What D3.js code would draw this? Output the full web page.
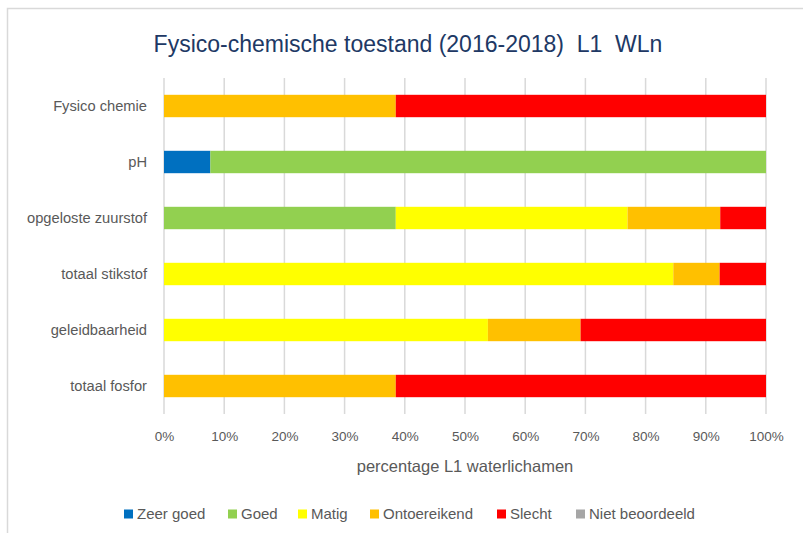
<!DOCTYPE html>
<html>
<head>
<meta charset="utf-8">
<script src="https://cdn.jsdelivr.net/npm/d3@7"></script>
<style>
  html, body { margin: 0; padding: 0; background: #fff; }
  svg { display: block; }
  text { font-family: "Liberation Sans", Arial, sans-serif; }
</style>
</head>
<body>
<svg id="chart" width="803" height="533"></svg>
<script>
// Parameters (top to bottom)
const categories = ["Fysico chemie", "pH", "opgeloste zuurstof", "totaal stikstof", "geleidbaarheid", "totaal fosfor"];

// Share of L1 water bodies per status class (%), one value per category
const classes = ["Zeer goed", "Goed", "Matig", "Ontoereikend", "Slecht", "Niet beoordeeld"];
const zeerGoed       = [0,    7.7,  0,    0,    0,    0];
const goed           = [0,    92.3, 38.5, 0,    0,    0];
const matig          = [0,    0,    38.5, 84.6, 53.8, 0];
const ontoereikend   = [38.5, 0,    15.4, 7.7,  15.4, 38.5];
const slecht         = [61.5, 0,    7.6,  7.7,  30.8, 61.5];
const nietBeoordeeld = [0,    0,    0,    0,    0,    0];

const tickValues = [0, 10, 20, 30, 40, 50, 60, 70, 80, 90, 100];
const titleText = "Fysico-chemische toestand (2016-2018)  L1  WLn";
const axisTitle = "percentage L1 waterlichamen";

const colors = ["#0070C0", "#92D050", "#FFFF00", "#FFC000", "#FF0000", "#A6A6A6"];

const seriesValues = [zeerGoed, goed, matig, ontoereikend, slecht, nietBeoordeeld];
const rows = categories.map((c, i) => {
  const r = { category: c };
  classes.forEach((k, j) => { r[k] = seriesValues[j][i]; });
  return r;
});
const stacked = d3.stack().keys(classes)(rows);

const svg = d3.select("#chart");

// Chart frame
svg.append("rect")
  .attr("x", 7.5).attr("y", 8.5)
  .attr("width", 803).attr("height", 533)
  .attr("fill", "#fff").attr("stroke", "#d9d9d9").attr("stroke-width", 1.5);

const plot = { left: 164, right: 766, top: 78, bottom: 414 };

const x = d3.scaleLinear().domain([0, 100]).range([plot.left, plot.right]);
const y = d3.scaleBand().domain(categories).range([plot.top, plot.bottom]).paddingInner(0.6).paddingOuter(0.3);

// Vertical gridlines
svg.append("g")
  .selectAll("line")
  .data(tickValues)
  .join("line")
  .attr("x1", d => x(d)).attr("x2", d => x(d))
  .attr("y1", plot.top).attr("y2", plot.bottom)
  .attr("stroke", "#d9d9d9").attr("stroke-width", 1.5);

// Stacked bars
const color = d3.scaleOrdinal().domain(classes).range(colors);
svg.append("g")
  .selectAll("g")
  .data(stacked)
  .join("g")
  .attr("fill", d => color(d.key))
  .selectAll("rect")
  .data(d => d)
  .join("rect")
  .attr("x", d => x(d[0]))
  .attr("y", d => y(d.data.category))
  .attr("width", d => Math.max(0, x(d[1]) - x(d[0])))
  .attr("height", y.bandwidth());

// X axis tick labels
const xAxis = d3.axisBottom(x).tickValues(tickValues).tickFormat(d => d + "%").tickSize(0).tickPadding(17);
const gx = svg.append("g").attr("transform", `translate(0,${plot.bottom})`).call(xAxis);
gx.select(".domain").remove();
gx.selectAll("text").attr("fill", "#595959").style("font-size", "13.5px");

// Y axis category labels
const yAxis = d3.axisLeft(y).tickSize(0).tickPadding(17);
const gy = svg.append("g").attr("transform", `translate(${plot.left},0)`).call(yAxis);
gy.select(".domain").remove();
gy.selectAll("text").attr("fill", "#595959").style("font-size", "14.7px");

// Title
svg.append("text")
  .attr("x", 408).attr("y", 52)
  .attr("text-anchor", "middle")
  .attr("fill", "#203864")
  .style("font-size", "23px")
  .style("white-space", "pre")
  .text(titleText);

// Axis title
svg.append("text")
  .attr("x", (plot.left + plot.right) / 2).attr("y", 472)
  .attr("text-anchor", "middle")
  .attr("fill", "#595959")
  .style("font-size", "16.5px")
  .text(axisTitle);

// Legend
const legendX = [124, 228, 298, 370, 497, 576];
const legend = svg.append("g")
  .selectAll("g")
  .data(classes)
  .join("g")
  .attr("transform", (d, i) => `translate(${legendX[i]},514)`);
legend.append("rect")
  .attr("x", 0).attr("y", -4.5).attr("width", 9).attr("height", 9)
  .attr("fill", d => color(d));
legend.append("text")
  .attr("x", 13).attr("y", 0).attr("dy", "0.35em")
  .attr("fill", "#595959")
  .style("font-size", "15px")
  .text(d => d);
</script>
</body>
</html>
